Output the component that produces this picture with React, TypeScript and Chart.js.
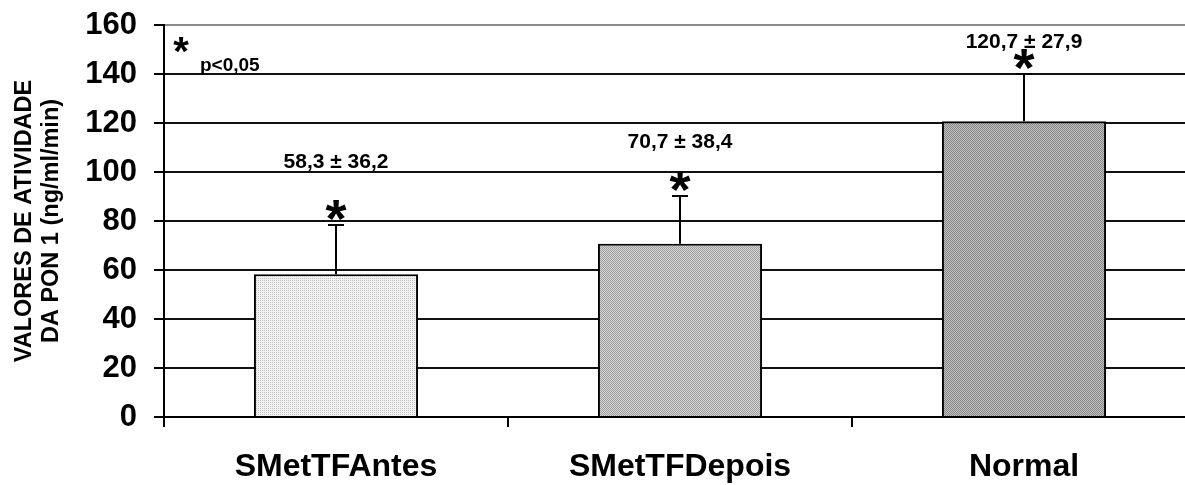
import React, { useEffect, useRef } from 'react';
import { Chart, registerables } from 'chart.js';

Chart.register(...registerables);

const categories = ['SMetTFAntes', 'SMetTFDepois', 'Normal'];
const meanValues = [58.3, 70.7, 120.7];
const errorUp = [20.1, 19.6, 19.3];
const valueLabels = ['58,3 ± 36,2', '70,7 ± 38,4', '120,7 ± 27,9'];
const valueLabelY = [104, 112, 153];
const yMin = 0;
const yMax = 160;
const yStep = 20;
const yTitle = ['VALORES DE ATIVIDADE', 'DA PON 1 (ng/ml/min)'];
const noteText = 'p<0,05';

const FONT = "'Liberation Sans', Arial, sans-serif";

function makePattern(ctx: CanvasRenderingContext2D, light: string, dark: string, diagonal: boolean) {
  const c = document.createElement('canvas');
  c.width = 2;
  c.height = 2;
  const p = c.getContext('2d')!;
  p.fillStyle = light;
  p.fillRect(0, 0, 2, 2);
  p.fillStyle = dark;
  p.fillRect(0, 0, 1, 1);
  if (diagonal) p.fillRect(1, 1, 1, 1);
  return ctx.createPattern(c, 'repeat')!;
}

function drawStar(ctx: CanvasRenderingContext2D, x: number, cy: number, size: number) {
  ctx.font = `bold ${size}px ${FONT}`;
  ctx.textAlign = 'center';
  ctx.textBaseline = 'alphabetic';
  const m = ctx.measureText('*');
  const base = cy + (m.actualBoundingBoxAscent - m.actualBoundingBoxDescent) / 2;
  ctx.fillText('*', x, base);
}

const annotations = {
  id: 'annotations',
  afterDatasetsDraw(chart: any) {
    const { ctx, chartArea } = chart;
    const y = chart.scales.y;
    const meta = chart.getDatasetMeta(0);
    ctx.save();
    ctx.fillStyle = '#000';
    ctx.strokeStyle = '#000';
    ctx.lineWidth = 2;
    meta.data.forEach((bar: any, i: number) => {
      const xc = Math.round(bar.x);
      const top = y.getPixelForValue(meanValues[i]);
      const et = Math.round(y.getPixelForValue(meanValues[i] + errorUp[i]));
      ctx.beginPath();
      ctx.moveTo(xc, top);
      ctx.lineTo(xc, et);
      ctx.moveTo(xc - 8, et);
      ctx.lineTo(xc + 8, et);
      ctx.stroke();
      drawStar(ctx, xc, et - 15, 54);
      ctx.font = `bold 21px ${FONT}`;
      ctx.textAlign = 'center';
      ctx.textBaseline = 'middle';
      ctx.fillText(valueLabels[i], xc, y.getPixelForValue(valueLabelY[i]));
    });
    drawStar(ctx, chartArea.left + 17, chartArea.top + 20, 40);
    ctx.font = `bold 19px ${FONT}`;
    ctx.textAlign = 'left';
    ctx.textBaseline = 'alphabetic';
    ctx.fillText(noteText, chartArea.left + 36, chartArea.top + 46);
    ctx.restore();
  },
};

export default function App() {
  const ref = useRef<HTMLCanvasElement>(null);
  useEffect(() => {
    const canvas = ref.current!;
    const ctx = canvas.getContext('2d')!;
    const fills = [
      makePattern(ctx, '#f2f2f2', '#c2c2c2', false),
      makePattern(ctx, '#d6d6d6', '#9c9c9c', true),
      makePattern(ctx, '#c2c2c2', '#868686', true),
    ];
    const chart = new Chart(canvas, {
      type: 'bar',
      data: {
        labels: categories,
        datasets: [
          {
            data: meanValues,
            backgroundColor: fills as any,
            borderColor: '#000',
            borderWidth: 2,
            categoryPercentage: 1,
            barPercentage: 0.477,
          },
        ],
      },
      plugins: [annotations],
      options: {
        responsive: false,
        animation: false,
        layout: { padding: { top: 0, left: 0, right: 0, bottom: 0 } },
        plugins: { legend: { display: false }, tooltip: { enabled: false } },
        scales: {
          x: {
            afterFit: (s: any) => {
              s.height = 68;
            },
            grid: {
              display: true,
              drawOnChartArea: false,
              drawTicks: true,
              tickLength: 10,
              color: '#000',
              lineWidth: 2,
              offset: true,
            },
            border: { display: true, color: '#000', width: 2 },
            ticks: {
              color: '#000',
              font: { family: FONT, size: 32, weight: 'bold' },
              padding: 21,
              maxRotation: 0,
            },
          },
          y: {
            min: yMin,
            max: yMax,
            afterFit: (s: any) => {
              s.width = 164;
              s.paddingTop = 25;
              s.paddingBottom = 0;
            },
            grid: {
              color: (c: any) => (c.tick && c.tick.value === yMax ? '#8a8a8a' : '#111'),
              tickColor: '#000',
              lineWidth: 2,
              tickLength: 10,
              drawTicks: true,
            },
            border: { display: true, color: '#000', width: 2 },
            ticks: {
              stepSize: yStep,
              color: '#000',
              font: { family: FONT, size: 31, weight: 'bold' },
              padding: 17,
            },
            title: {
              display: true,
              text: yTitle,
              color: '#000',
              font: { family: FONT, size: 23.5, weight: 'bold', lineHeight: 1.15 },
              padding: { top: 11, bottom: 0 },
            },
          },
        },
      },
    });
    return () => chart.destroy();
  }, []);
  return (
    <div
      style={{
        position: 'fixed',
        left: 0,
        top: 0,
        width: 1185,
        height: 485,
        overflow: 'hidden',
        background: '#fff',
      }}
    >
      <canvas ref={ref} width={1196} height={485} style={{ display: 'block', width: 1196, height: 485 }} />
    </div>
  );
}
